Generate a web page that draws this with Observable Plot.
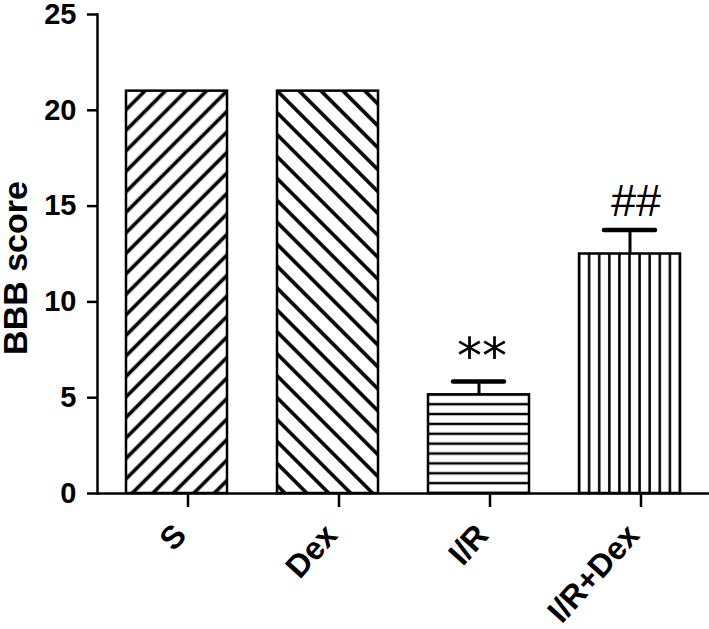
<!DOCTYPE html>
<html>
<head>
<meta charset="utf-8">
<script src="https://cdn.jsdelivr.net/npm/d3@7"></script>
<script src="https://cdn.jsdelivr.net/npm/@observablehq/plot@0.6"></script>
<style>
  html, body { margin: 0; padding: 0; background: #fff; }
  #chart svg { display: block; overflow: visible; }
</style>
</head>
<body>
<div id="chart"></div>
<script>
// ---- data ----
const groups = ["S", "Dex", "I/R", "I/R+Dex"];
const means = [21, 21, 5.15, 12.5];
const errors = [0, 0, 0.7, 1.25];
const stars = ["", "", "**", ""];
const hashes = ["", "", "", "##"];
const yTicks = [0, 5, 10, 15, 20, 25];
const yTitle = "BBB score";

const data = groups.map((g, i) => ({group: g, mean: means[i], err: errors[i], star: stars[i], hash: hashes[i]}));
const withErr = data.filter(d => d.err > 0);
const font = "'Liberation Sans', Arial, Helvetica, sans-serif";

const svg = Plot.plot({
  width: 709,
  height: 629,
  marginLeft: 97,
  marginRight: 0,
  marginTop: 14,
  marginBottom: 136,
  style: {fontFamily: font, background: "#fff", color: "#000"},
  x: {domain: groups, paddingInner: 0.33, paddingOuter: 0.18, label: null},
  y: {domain: [0, 25], label: null},
  color: {domain: groups, range: groups.map((g, i) => `url(#pat${i})`)},
  marks: [
    Plot.barY(data, {x: "group", y: "mean", fill: "group", stroke: "#000", strokeWidth: 2.5}),
    Plot.ruleX(withErr, {x: "group", y1: "mean", y2: d => d.mean + d.err, stroke: "#000", strokeWidth: 3}),
    Plot.tickY(withErr, {x: "group", y: d => d.mean + d.err, stroke: "#000", strokeWidth: 4.5, insetLeft: 25, insetRight: 25, strokeLinecap: "round"}),
    Plot.text(data.filter(d => d.star), {x: "group", y: d => d.mean + d.err, text: "star", lineAnchor: "bottom", dy: -8, dx: 3, fontSize: 50, fontFamily: "'DejaVu Sans', sans-serif", fill: "#000"}),
    Plot.text(data.filter(d => d.hash), {x: "group", y: d => d.mean + d.err, text: "hash", lineAnchor: "bottom", dy: -14, dx: 6, fontSize: 45, fontWeight: "normal", fill: "#000"}),
    Plot.ruleY([0], {stroke: "#000", strokeWidth: 2.5}),
    Plot.frame({anchor: "left", stroke: "#000", strokeWidth: 2.5}),
    Plot.axisY({ticks: yTicks, tickSize: 10, tickPadding: 11, fontSize: 29, fontWeight: "bold", stroke: "#000", strokeWidth: 2.5, fill: "#000", label: null}),
    Plot.axisX({tickSize: 14, tickPadding: 29, tickRotate: -48, textAnchor: "end", lineAnchor: "bottom", dx: 11, fontSize: 32, fontWeight: "bold", stroke: "#000", strokeWidth: 2.5, fill: "#000", label: null}),
    Plot.text([yTitle], {frameAnchor: "left", text: d => d, rotate: -90, textAnchor: "middle", lineAnchor: "middle", dx: -81, dy: 14, fontSize: 34, fontWeight: "bold", fill: "#000"})
  ]
});

// ---- hatch patterns, aligned to the rendered bars ----
const ns = "http://www.w3.org/2000/svg";
const rects = svg.querySelectorAll('g[aria-label="bar"] rect');
const geo = Array.from(rects).map(r => ({
  x: +r.getAttribute("x"), y: +r.getAttribute("y"),
  w: +r.getAttribute("width"), h: +r.getAttribute("height")
}));
let defsHTML = "";
// S: "/" diagonals
defsHTML += `<pattern id="pat0" patternUnits="userSpaceOnUse" width="14.5" height="14.5" patternTransform="rotate(45)">
  <rect width="14.5" height="14.5" fill="#fff"/><line x1="7.25" y1="-1" x2="7.25" y2="16" stroke="#000" stroke-width="3.6"/></pattern>`;
// Dex: "\" diagonals
defsHTML += `<pattern id="pat1" patternUnits="userSpaceOnUse" width="15.5" height="15.5" patternTransform="rotate(-45)">
  <rect width="15.5" height="15.5" fill="#fff"/><line x1="7.75" y1="-1" x2="7.75" y2="17" stroke="#000" stroke-width="3.6"/></pattern>`;
// I/R: horizontal lines
if (geo[2]) {
  const g = geo[2], n = 10, s = g.h / n;
  defsHTML += `<pattern id="pat2" patternUnits="userSpaceOnUse" x="0" y="${g.y - s / 2}" width="50" height="${s}">
    <rect width="50" height="${s}" fill="#fff"/><line x1="-1" y1="${s / 2}" x2="51" y2="${s / 2}" stroke="#000" stroke-width="2.5"/></pattern>`;
}
// I/R+Dex: vertical lines
if (geo[3]) {
  const g = geo[3], n = 10, s = g.w / n;
  defsHTML += `<pattern id="pat3" patternUnits="userSpaceOnUse" x="${g.x - s / 2}" y="0" width="${s}" height="50">
    <rect width="${s}" height="50" fill="#fff"/><line x1="${s / 2}" y1="-1" x2="${s / 2}" y2="51" stroke="#000" stroke-width="2.5"/></pattern>`;
}
const defs = document.createElementNS(ns, "defs");
defs.innerHTML = defsHTML;
svg.insertBefore(defs, svg.firstChild);

document.getElementById("chart").appendChild(svg);
</script>
</body>
</html>
